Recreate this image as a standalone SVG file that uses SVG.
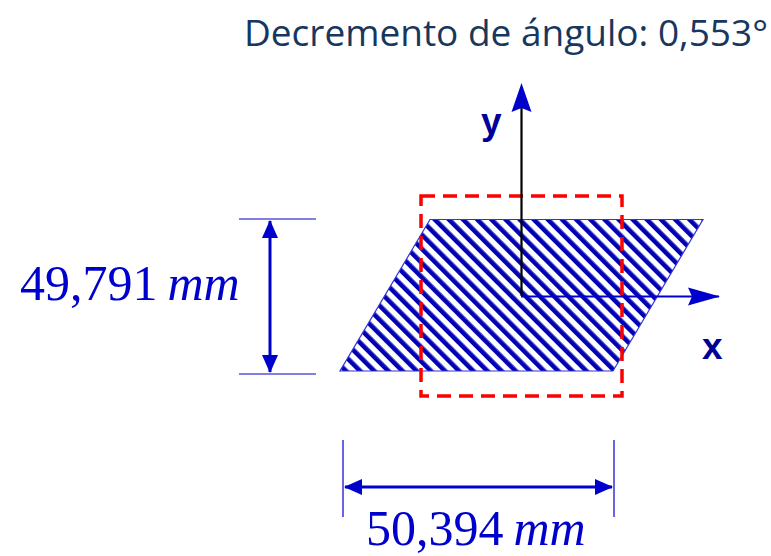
<svg xmlns="http://www.w3.org/2000/svg" width="771" height="556" viewBox="0 0 771 556">
<style>
.dim{stroke:#0000CC;stroke-width:1.2;fill:none}
.dimarrow{stroke:#0000CC;stroke-width:3;fill:none}
.num{font-family:"Liberation Serif","Times New Roman",serif;font-size:50px;fill:#0000CC}
.unit{font-style:italic}
.axlbl{font-family:"Liberation Sans",Arial,sans-serif;font-weight:bold;font-size:37px;fill:#000099}
.title{font-family:"Open Sans","Noto Sans",sans-serif;font-size:37px;fill:#17375E}
</style>
<defs>
<pattern id="hatch" patternUnits="userSpaceOnUse" width="10" height="20" patternTransform="rotate(-45)">
<rect x="0" y="0" width="10" height="20" fill="#ffffff"/>
<rect x="0" y="0" width="4.6" height="20" fill="#0000B4"/>
</pattern>
<marker id="ah" markerUnits="userSpaceOnUse" markerWidth="18" markerHeight="18" viewBox="0 0 18 18" refX="17" refY="9" orient="auto-start-reverse">
<path d="M0,1 L18,9 L0,17 Z" fill="#0000CC"/>
</marker>
<marker id="axh" markerUnits="userSpaceOnUse" markerWidth="32" markerHeight="20" viewBox="0 0 32 20" refX="31" refY="10" orient="auto">
<path d="M0,1 L32,10 L0,19 L4,10 Z" fill="#0000CC"/>
</marker>
</defs>

<text class="title" x="768" y="46" text-anchor="end">Decremento de ángulo: 0,553°</text>

<g id="section">
<polygon points="430,219.5 703,219.5 613,371 340,371" fill="url(#hatch)" stroke="#3333DD" stroke-width="1.2"/>
</g>

<g id="bounding-box">
<rect x="421" y="196" width="201" height="200" fill="none" stroke="#FF0000" stroke-width="3.5" stroke-dasharray="14 8"/>
</g>

<g id="connectors">
<line x1="521.5" y1="296" x2="521.5" y2="108" stroke="#000000" stroke-width="2.2"/>
<path d="M521.5,83 L531.5,112 L521.5,108 L511.5,112 Z" fill="#0000CC"/>
<line x1="521" y1="296.5" x2="719" y2="296.5" stroke="#0000CC" stroke-width="2.2" marker-end="url(#axh)"/>

<line class="dim" x1="239" y1="219" x2="316" y2="219"/>
<line class="dim" x1="239" y1="374" x2="316" y2="374"/>
<line class="dimarrow" x1="270" y1="221" x2="270" y2="372" marker-start="url(#ah)" marker-end="url(#ah)"/>

<line class="dim" x1="343" y1="440" x2="343" y2="517"/>
<line class="dim" x1="614" y1="440" x2="614" y2="517"/>
<line class="dimarrow" x1="345" y1="487" x2="612" y2="487" marker-start="url(#ah)" marker-end="url(#ah)"/>
</g>

<g id="label-y"><text class="axlbl" x="481" y="134">y</text></g>
<g id="label-x"><text class="axlbl" x="702" y="359">x</text></g>

<g id="label-height"><text class="num" x="20" y="300">49,791<tspan class="unit" dx="10">mm</tspan></text></g>
<g id="label-width"><text class="num" x="366" y="545">50,394<tspan class="unit" dx="10">mm</tspan></text></g>
</svg>
